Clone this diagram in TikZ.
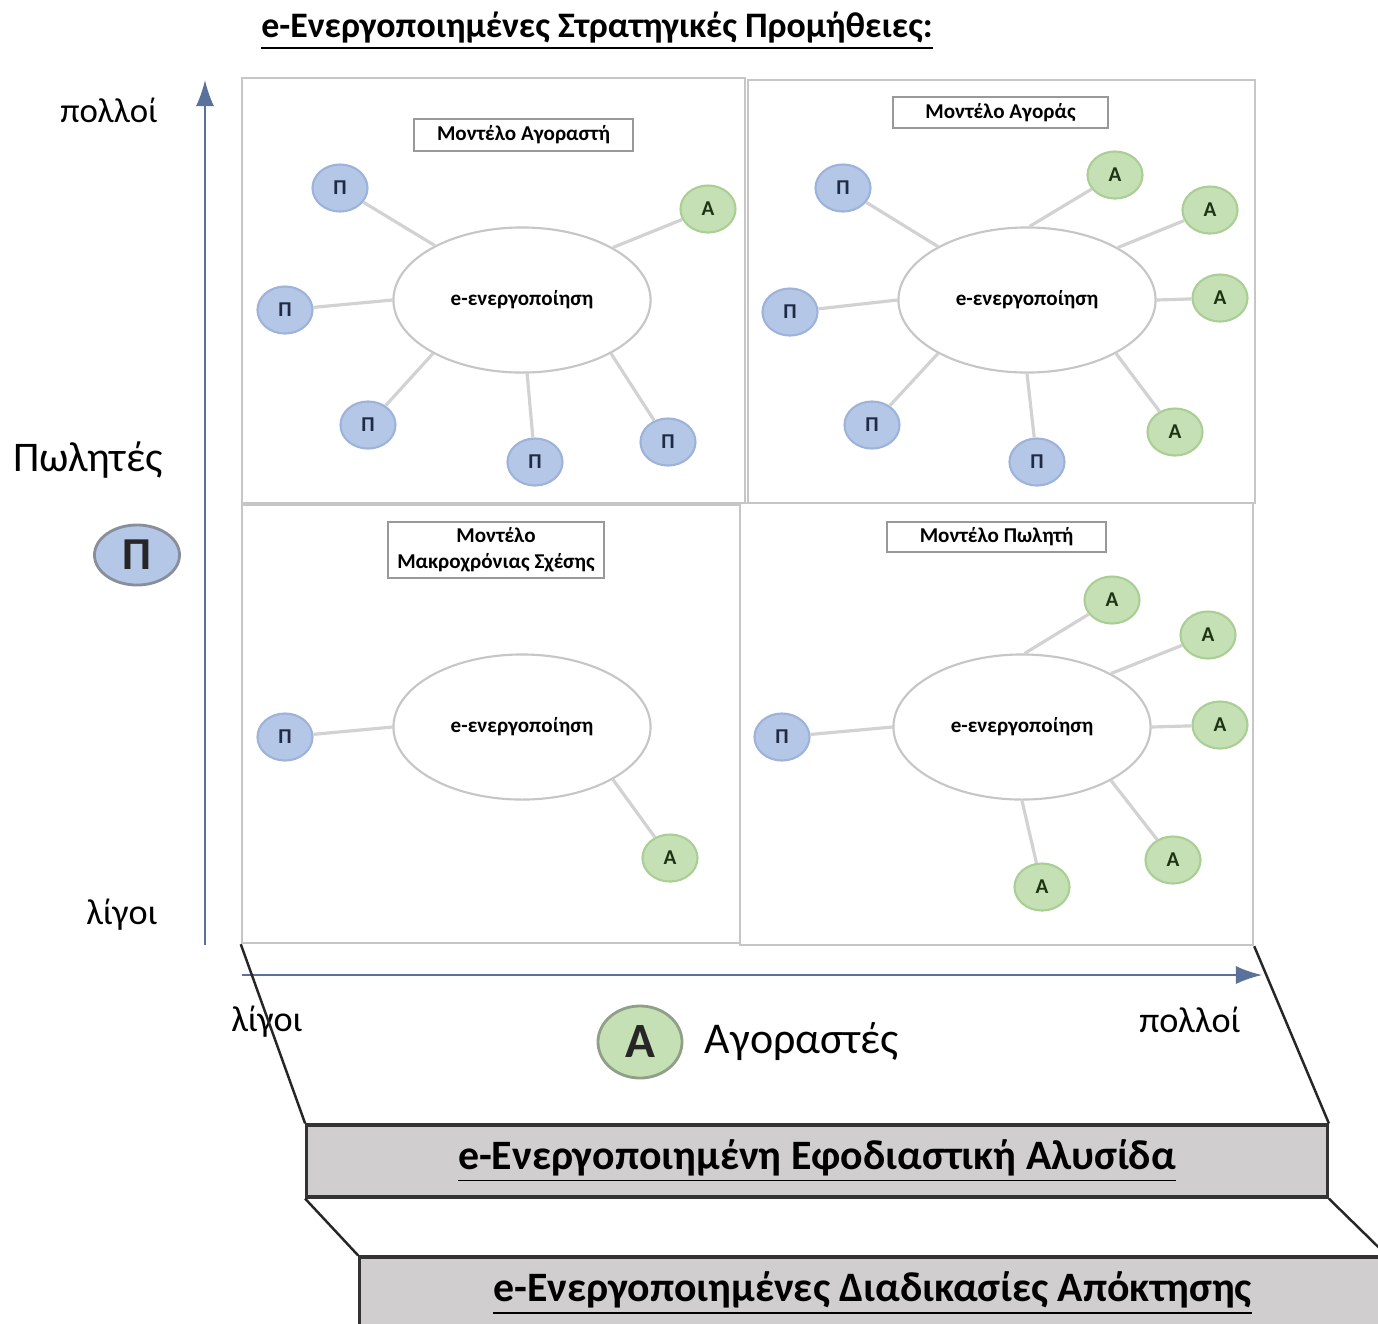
\documentclass[tikz,border=0pt]{standalone}
\usepackage{fontspec}
\setmainfont{Carlito}
\usetikzlibrary{shapes.geometric,arrows.meta}
\definecolor{sellerfill}{HTML}{B4C7E7}
\definecolor{sellerline}{HTML}{9DB3DA}
\definecolor{sellertext}{HTML}{1F2A44}
\definecolor{buyerfill}{HTML}{C5E0B4}
\definecolor{buyerline}{HTML}{AACF94}
\definecolor{buyertext}{HTML}{1E3314}
\definecolor{axisblue}{HTML}{4A6BA8}
\definecolor{barfill}{HTML}{D0CECE}
\tikzset{seller/.style={ellipse, draw=sellerline, fill=sellerfill, line width=0.6pt, minimum width=0.55cm, minimum height=0.47cm, inner sep=0pt, text=sellertext, font=\bfseries\fontsize{6}{7}\selectfont}}
\tikzset{buyer/.style={ellipse, draw=buyerline, fill=buyerfill, line width=0.6pt, minimum width=0.55cm, minimum height=0.47cm, inner sep=0pt, text=buyertext, font=\bfseries\fontsize{6}{7}\selectfont}}
\tikzset{hub/.style={ellipse, draw=gray!45, line width=0.6pt, minimum width=2.57cm, minimum height=1.45cm, font=\bfseries\fontsize{6}{7}\selectfont}}
\tikzset{model/.style={draw=gray!80, line width=0.5pt, inner sep=1pt, align=center, font=\bfseries\fontsize{6}{7.5}\selectfont}}
\tikzset{quad/.style={draw=gray!45, line width=0.6pt, inner sep=0pt}}
\tikzset{link/.style={draw=gray!35, line width=0.9pt}}
\tikzset{axis/.style={-{Latex[length=2.6mm,width=1.8mm]}, draw=axisblue!70!gray, line width=0.5pt}}
\tikzset{bar/.style={draw=black!80, line width=0.9pt, fill=barfill, inner sep=0pt, font=\bfseries\fontsize{11.9}{13}\selectfont}}
\tikzset{side/.style={draw=black!85, line width=0.7pt}}

\begin{document}
\begin{tikzpicture}[x=0.01cm, y=-0.01cm]
  \useasboundingbox (0,0) rectangle (1378,1323);
  \fill[white] (0,0) rectangle (1378,1323);
  \clip (0,0) rectangle (1378,1323);

  % title
  \node[font=\bfseries\fontsize{10.2}{12}\selectfont] (title) at (597,31) {\underline{e-Ενεργοποιημένες Στρατηγικές Προμήθειες:}};

  % quadrants
  \node[quad, minimum width=5.03cm, minimum height=4.25cm] (quadUL) at (493.5,290.5) {};
  \node[quad, minimum width=5.07cm, minimum height=4.23cm] (quadUR) at (1001.5,291.5) {};
  \node[quad, minimum width=4.98cm, minimum height=4.38cm] (quadLL) at (491,724) {};
  \node[quad, minimum width=5.13cm, minimum height=4.42cm] (quadLR) at (996.5,724) {};

  % axes
  \coordinate (yfrom) at (205,945);
  \coordinate (yto) at (205,80);
  \coordinate (xfrom) at (242,975);
  \coordinate (xto) at (1262,975);
  \draw[axis] (yfrom) -- (yto);
  \draw[axis] (xfrom) -- (xto);

  \node[font=\fontsize{9.9}{12}\selectfont] (ymany) at (109,110) {πολλοί};
  \node[font=\fontsize{12}{14}\selectfont] (ylabel) at (88,460) {Πωλητές};
  \node[ellipse, draw=gray!70!sellerline, fill=sellerfill, line width=0.8pt, minimum width=0.85cm, minimum height=0.6cm, inner sep=0pt, font=\bfseries\fontsize{13}{14}\selectfont, text=black!85] (bigP) at (137,555) {Π};
  \node[font=\fontsize{10.3}{12}\selectfont] (yfew) at (122,915) {λίγοι};

  \node[font=\fontsize{10.3}{12}\selectfont] (xfew) at (267,1022) {λίγοι};
  \node[ellipse, draw=gray!60!buyerline, fill=buyerfill, line width=0.8pt, minimum width=0.84cm, minimum height=0.72cm, inner sep=0pt, font=\bfseries\fontsize{14}{15}\selectfont, text=black!85] (bigA) at (640,1042) {Α};
  \node[font=\fontsize{12.5}{14}\selectfont] (xlabel) at (802,1042) {Αγοραστές};
  \node[font=\fontsize{10.3}{12}\selectfont] (xmany) at (1190,1020) {πολλοί};

  % bars underneath
  \node[bar, minimum width=10.2cm, minimum height=0.72cm] (supply) at (817,1161) {\underline{e-Ενεργοποιημένη Εφοδιαστική Αλυσίδα}};
  \node[bar, minimum width=10.25cm, minimum height=0.73cm] (acq) at (872.5,1293.5) {\underline{e-Ενεργοποιημένες Διαδικασίες Απόκτησης}};
  \draw[side] (quadLL.south west) -- (supply.north west);
  \draw[side] (quadLR.south east) -- (supply.north east);
  \draw[side] (supply.south west) -- (acq.north west);
  \draw[side] (supply.south east) -- (acq.north east);

  % buyer model
  \node[model, minimum width=2.19cm, minimum height=0.32cm] (modelB) at (523.5,135) {Μοντέλο Αγοραστή};
  \node[hub] (hubB) at (522,300) {e-ενεργοποίηση};
  \node[seller] (PB1) at (340,188) {Π};
  \node[seller] (PB2) at (285,310) {Π};
  \node[seller] (PB3) at (368,425) {Π};
  \node[seller] (PB4) at (535,462) {Π};
  \node[seller] (PB5) at (668,442) {Π};
  \node[buyer] (AB1) at (708,209) {Α};
  \draw[link] (hubB.148) -- (PB1);
  \draw[link] (hubB.180) -- (PB2);
  \draw[link] (hubB.211) -- (PB3);
  \draw[link] (hubB.274) -- (PB4);
  \draw[link] (hubB.329) -- (PB5);
  \draw[link] (hubB.30) -- (AB1);

  % market model
  \node[model, minimum width=2.15cm, minimum height=0.31cm] (modelM) at (1000.5,112.5) {Μοντέλο Αγοράς};
  \node[hub] (hubM) at (1027,300) {e-ενεργοποίηση};
  \node[seller] (PM1) at (843,188) {Π};
  \node[seller] (PM2) at (790,312) {Π};
  \node[seller] (PM3) at (872,425) {Π};
  \node[seller] (PM4) at (1037,462) {Π};
  \node[buyer] (AM1) at (1115,175) {Α};
  \node[buyer] (AM2) at (1210,210) {Α};
  \node[buyer] (AM3) at (1220,298) {Α};
  \node[buyer] (AM4) at (1175,432) {Α};
  \draw[link] (hubM.149) -- (PM1);
  \draw[link] (hubM.180) -- (PM2);
  \draw[link] (hubM.211) -- (PM3);
  \draw[link] (hubM.270) -- (PM4);
  \draw[link] (hubM.88) -- (AM1);
  \draw[link] (hubM.30) -- (AM2);
  \draw[link] (hubM.0) -- (AM3);
  \draw[link] (hubM.329) -- (AM4);

  % long-term relationship model
  \node[model, minimum width=2.16cm, minimum height=0.56cm] (modelL) at (496,550) {Μοντέλο\\Μακροχρόνιας Σχέσης};
  \node[hub] (hubL) at (522,727) {e-ενεργοποίηση};
  \node[seller] (PL1) at (285,737) {Π};
  \node[buyer] (AL1) at (670,858) {Α};
  \draw[link] (hubL.180) -- (PL1);
  \draw[link] (hubL.330) -- (AL1);

  % seller model
  \node[model, minimum width=2.19cm, minimum height=0.3cm] (modelS) at (996.5,537) {Μοντέλο Πωλητή};
  \node[hub] (hubS) at (1022,727) {e-ενεργοποίηση};
  \node[seller] (PS1) at (782,737) {Π};
  \node[buyer] (AS1) at (1112,600) {Α};
  \node[buyer] (AS2) at (1208,635) {Α};
  \node[buyer] (AS3) at (1220,725) {Α};
  \node[buyer] (AS4) at (1173,860) {Α};
  \node[buyer] (AS5) at (1042,887) {Α};
  \draw[link] (hubS.180) -- (PS1);
  \draw[link] (hubS.88) -- (AS1);
  \draw[link] (hubS.31) -- (AS2);
  \draw[link] (hubS.0) -- (AS3);
  \draw[link] (hubS.329) -- (AS4);
  \draw[link] (hubS.270) -- (AS5);
\end{tikzpicture}
\end{document}
